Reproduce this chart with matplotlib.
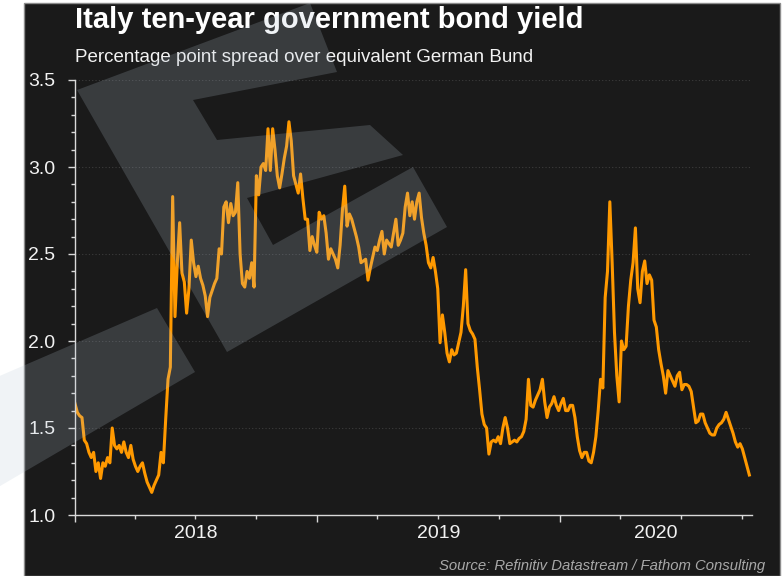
import matplotlib
matplotlib.use("Agg")
import matplotlib.pyplot as plt
import matplotlib.dates as mdates
from matplotlib.patches import Polygon, Rectangle
from matplotlib.ticker import MultipleLocator, FormatStrFormatter
import pandas as pd

# twice-weekly readings of the Italy 10y spread over Bunds (percentage points), from 1 Jan 2018
spread = [
    1.64, 1.59, 1.57, 1.56, 1.43, 1.41, 1.36, 1.33, 1.36, 1.25,
    1.30, 1.21, 1.30, 1.28, 1.33, 1.30, 1.50, 1.40, 1.38, 1.40,
    1.36, 1.42, 1.36, 1.33, 1.40, 1.32, 1.28, 1.25, 1.28, 1.30,
    1.24, 1.19, 1.16, 1.13, 1.17, 1.20, 1.23, 1.36, 1.30, 1.55,
    1.78, 1.85, 2.83, 2.14, 2.45, 2.68, 2.39, 2.34, 2.16, 2.30,
    2.58, 2.45, 2.37, 2.43, 2.36, 2.32, 2.26, 2.14, 2.25, 2.29,
    2.33, 2.36, 2.53, 2.50, 2.77, 2.80, 2.68, 2.79, 2.72, 2.74,
    2.91, 2.50, 2.33, 2.31, 2.40, 2.36, 2.45, 2.31, 2.95, 2.84,
    3.00, 3.02, 2.98, 3.22, 2.98, 3.22, 3.10, 2.95, 2.88, 2.96,
    3.05, 3.12, 3.26, 3.15, 2.95, 2.90, 2.85, 2.96, 2.82, 2.70,
    2.70, 2.52, 2.60, 2.55, 2.51, 2.74, 2.70, 2.72, 2.62, 2.47,
    2.53, 2.50, 2.47, 2.42, 2.55, 2.75, 2.89, 2.66, 2.73, 2.70,
    2.65, 2.60, 2.54, 2.45, 2.46, 2.47, 2.35, 2.42, 2.48, 2.54,
    2.52, 2.58, 2.63, 2.50, 2.58, 2.56, 2.54, 2.62, 2.70, 2.55,
    2.58, 2.62, 2.77, 2.85, 2.72, 2.80, 2.70, 2.80, 2.85, 2.71,
    2.62, 2.55, 2.45, 2.42, 2.48, 2.40, 2.30, 1.99, 2.15, 2.05,
    1.93, 1.88, 1.95, 1.92, 1.93, 1.99, 2.05, 2.20, 2.41, 2.10,
    2.06, 2.04, 2.01, 1.85, 1.72, 1.58, 1.52, 1.50, 1.35, 1.42,
    1.43, 1.42, 1.45, 1.41, 1.50, 1.56, 1.50, 1.41, 1.42, 1.43,
    1.42, 1.44, 1.45, 1.48, 1.55, 1.78, 1.63, 1.62, 1.66, 1.69,
    1.72, 1.78, 1.65, 1.56, 1.62, 1.64, 1.68, 1.63, 1.60, 1.64,
    1.67, 1.60, 1.60, 1.63, 1.63, 1.56, 1.45, 1.37, 1.33, 1.36,
    1.36, 1.31, 1.30, 1.36, 1.45, 1.60, 1.78, 1.73, 2.25, 2.40,
    2.80, 2.45, 2.05, 1.80, 1.65, 2.00, 1.95, 1.97, 2.20, 2.35,
    2.45, 2.65, 2.30, 2.22, 2.40, 2.46, 2.33, 2.38, 2.35, 2.12,
    2.08, 1.95, 1.87, 1.80, 1.70, 1.83, 1.80, 1.77, 1.74, 1.80,
    1.82, 1.72, 1.75, 1.75, 1.74, 1.71, 1.62, 1.53, 1.54, 1.58,
    1.58, 1.53, 1.50, 1.47, 1.46, 1.46, 1.50, 1.52, 1.53, 1.55,
    1.59, 1.55, 1.51, 1.47, 1.42, 1.39, 1.41, 1.38, 1.33, 1.28,
    1.23,
]
dates = pd.date_range("2018-01-01", periods=len(spread), freq="84h")

x_start = pd.Timestamp("2018-01-01")
x_end = pd.Timestamp("2020-10-16")
years = [2018, 2019, 2020]

title = "Italy ten-year government bond yield"
subtitle = "Percentage point spread over equivalent German Bund"
source = "Source: Refinitiv Datastream / Fathom Consulting"

BG = "#1a1a1a"
ORANGE = "#ff9900"
TEXT = "#f2f2f2"
AXIS = "#d9d9d9"
WATERMARK = "#b6c5d3"

W, H = 782, 576
plt.rcParams["font.family"] = ["Liberation Sans", "DejaVu Sans"]


def px(x, y):
    # pixel position (from top left) to figure fraction
    return (x / W, 1 - y / H)


fig = plt.figure(figsize=(W / 100, H / 100), dpi=100)
fig.patch.set_facecolor("white")

# dark panel behind everything
fig.add_artist(Rectangle(px(24, 576), (780 - 24) / W, (576 - 3) / H,
                         transform=fig.transFigure, facecolor=BG,
                         edgecolor="#8c8c8c", lw=1, zorder=-1))

ax = fig.add_axes([75 / W, 1 - 515 / H, (752 - 75) / W, (515 - 80) / H])
ax.set_facecolor("none")
ax.plot(dates, spread, color=ORANGE, lw=2.2, solid_joinstyle="round")

ax.set_xlim(x_start, x_end)
ax.set_ylim(1.0, 3.5)

ax.yaxis.set_major_locator(MultipleLocator(0.5))
ax.yaxis.set_minor_locator(MultipleLocator(0.1))
ax.yaxis.set_major_formatter(FormatStrFormatter("%.1f"))
ax.xaxis.set_major_locator(mdates.YearLocator())
ax.xaxis.set_minor_locator(mdates.MonthLocator(bymonth=[4, 7, 10]))
ax.xaxis.set_major_formatter(plt.NullFormatter())

ax.tick_params(axis="both", which="major", length=5, width=1, color=AXIS)
ax.tick_params(axis="both", which="minor", length=3, width=1, color=AXIS)
ax.tick_params(axis="y", which="major", labelsize=14, labelcolor=TEXT, pad=9)

for side in ["top", "right"]:
    ax.spines[side].set_visible(False)
for side in ["left", "bottom"]:
    ax.spines[side].set_color(AXIS)
    ax.spines[side].set_linewidth(1)

ax.grid(axis="y", which="major", color="#3c3c3c", ls=(0, (1, 2)), lw=0.8)
ax.set_axisbelow(True)

# year labels centred on the visible part of each year
for yr in years:
    lo = max(pd.Timestamp(f"{yr}-01-01"), x_start)
    hi = min(pd.Timestamp(f"{yr + 1}-01-01"), x_end)
    mid = lo + (hi - lo) / 2
    ax.annotate(str(yr), xy=(mid, 0), xycoords=("data", "axes fraction"),
                xytext=(0, -13), textcoords="offset points",
                ha="center", va="center", fontsize=14, color=TEXT)

fig.text(*px(75, 28), title, fontsize=21, fontweight="bold", color="white",
         ha="left", va="baseline")
fig.text(*px(75, 62), subtitle, fontsize=13.5, color=TEXT,
         ha="left", va="baseline")
fig.text(*px(765, 570), source, fontsize=10.7, style="italic", color="#a8a8a8",
         ha="right", va="baseline")

# faint tilted logo watermark laid over the chart
stem = [(77, 90), (310, 3), (337, 72), (193, 100), (217, 140), (370, 125),
        (403, 155), (247, 198), (273, 245), (413, 167), (447, 227), (227, 352)]
bar = [(157, 308), (195, 372), (-5, 489), (-5, 378)]
for shape in [stem, bar]:
    fig.add_artist(Polygon([px(x, y) for x, y in shape], closed=True,
                           transform=fig.transFigure, facecolor=WATERMARK,
                           edgecolor="none", alpha=0.2, zorder=5))

fig.savefig("out.png", dpi=100, facecolor=fig.get_facecolor())
